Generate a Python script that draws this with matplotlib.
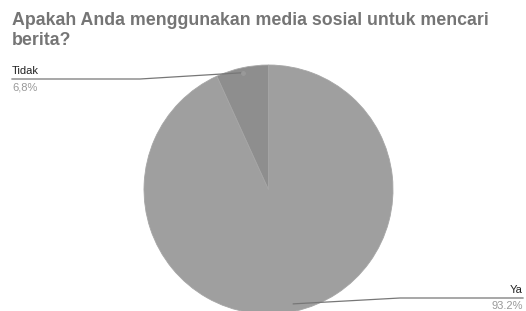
import numpy as np
import matplotlib.pyplot as plt
from matplotlib.lines import Line2D
from matplotlib.transforms import IdentityTransform

# Data
labels = ['Ya', 'Tidak']
values = [93.2, 6.8]
pct_text = ['93.2%', '6,8%']
colors = ['#9f9f9f', '#8e8e8e']

W, H = 526, 311
fig = plt.figure(figsize=(W / 100, H / 100), dpi=100)
plt.rcParams['font.family'] = ['Liberation Sans', 'DejaVu Sans']

# pie centre (268.5, 189.5) from top, radius 124.5 px (bottom is cut off)
cx, cy, r = 268.5, H - 189.5, 124.5
ax = fig.add_axes([(cx - r) / W, (cy - r) / H, 2 * r / W, 2 * r / H])
wedges, _ = ax.pie(values, colors=colors, startangle=90, counterclock=False,
                   radius=1.0, wedgeprops=dict(linewidth=0.6, edgecolor='#a6a6a6'))
ax.set_xlim(-1, 1)
ax.set_ylim(-1, 1)
ax.set_aspect('equal')
ax.axis('off')

# Title
fig.text(12 / W, 1 - 12 / H, 'Apakah Anda menggunakan media sosial untuk mencari\nberita?',
         fontsize=12.8, fontweight='bold', color='#757575', ha='left', va='top',
         linespacing=1.2)

# leader lines and labels
def anchor(w, frac=0.95):
    ang = np.deg2rad((w.theta1 + w.theta2) / 2)
    return cx + frac * r * np.cos(ang), cy + frac * r * np.sin(ang)

# Tidak (left)
px, py = anchor(wedges[1], 0.96)
ly = H - 79
fig.add_artist(Line2D([12, 140, px], [ly, ly, py], color='#777777', lw=0.9,
                      transform=IdentityTransform()))
fig.add_artist(Line2D([px], [py], marker='o', ms=2.5, color='#999999', lw=0,
                      transform=IdentityTransform()))
fig.text(12 / W, (ly + 3) / H, labels[1], fontsize=8, color='#222222', ha='left', va='bottom')
fig.text(12 / W, (ly - 3) / H, pct_text[1], fontsize=8, color='#999999', ha='left', va='top')

# Ya (right)
px, py = anchor(wedges[0], 0.94)
ly = H - 298
fig.add_artist(Line2D([523, 400, px], [ly, ly, py], color='#777777', lw=0.9,
                      transform=IdentityTransform()))
fig.text(523 / W, (ly + 3) / H, labels[0], fontsize=8, color='#222222', ha='right', va='bottom')
fig.text(523 / W, (ly - 3) / H, pct_text[0], fontsize=8, color='#999999', ha='right', va='top')

fig.savefig('out.png', dpi=100)
